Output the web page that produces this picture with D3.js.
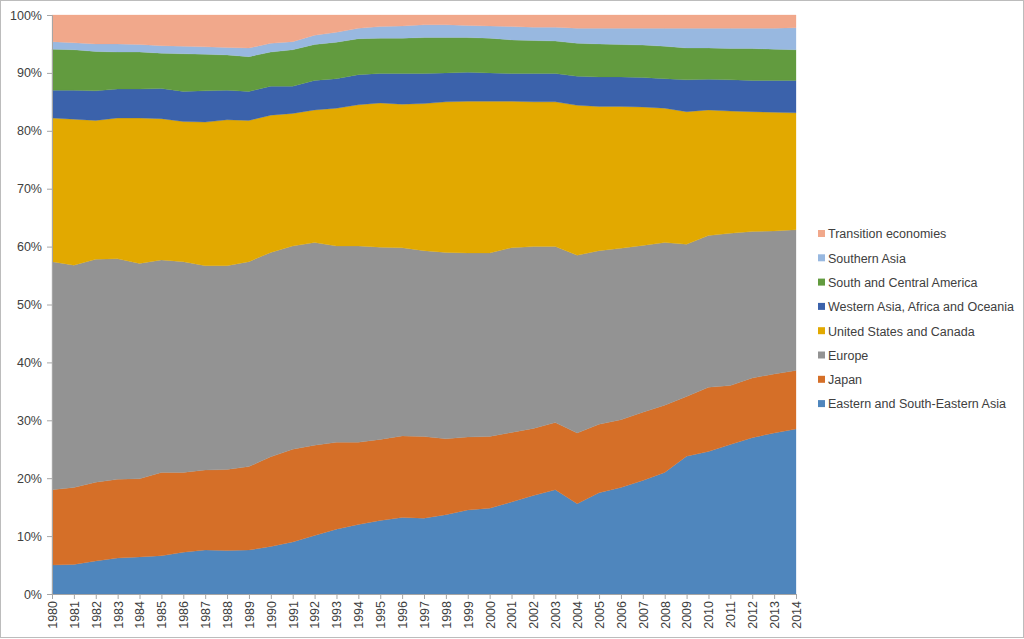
<!DOCTYPE html>
<html><head><meta charset="utf-8">
<script src="https://cdn.jsdelivr.net/npm/d3@7"></script>
<style>
html,body{margin:0;padding:0;background:#fff;}
svg{display:block;font-family:"Liberation Sans","DejaVu Sans",sans-serif;}
</style></head>
<body>
<svg id="chart" width="1024" height="639"></svg>
<script>
const years = [1980,1981,1982,1983,1984,1985,1986,1987,1988,1989,1990,1991,1992,1993,1994,1995,1996,1997,1998,1999,2000,2001,2002,2003,2004,2005,2006,2007,2008,2009,2010,2011,2012,2013,2014];
const easternAsia = [5.0,5.1,5.7,6.2,6.4,6.6,7.2,7.6,7.5,7.6,8.2,9.0,10.1,11.2,12.0,12.7,13.2,13.1,13.7,14.5,14.8,15.9,17.0,18.0,15.6,17.5,18.4,19.6,21.0,23.8,24.6,25.8,27.0,27.8,28.5];
const japan = [13.0,13.3,13.6,13.6,13.5,14.4,13.8,13.8,14.0,14.4,15.5,16.0,15.6,15.0,14.2,14.0,14.1,14.1,13.1,12.6,12.4,12.0,11.6,11.6,12.2,11.8,11.7,11.8,11.6,10.3,11.1,10.2,10.3,10.2,10.1];
const europe = [39.4,38.4,38.5,38.1,37.2,36.7,36.4,35.3,35.2,35.4,35.3,35.1,35.0,33.9,33.9,33.2,32.5,32.1,32.2,31.8,31.7,31.9,31.4,30.4,30.7,30.0,29.6,28.8,28.1,26.3,26.2,26.3,25.3,24.7,24.3];
const usCanada = [24.8,25.2,24.0,24.3,25.1,24.4,24.2,24.8,25.2,24.4,23.7,22.9,22.9,23.8,24.4,24.9,24.8,25.4,26.0,26.2,26.2,25.3,25.0,25.0,25.9,24.9,24.5,23.9,23.2,22.9,21.7,21.1,20.7,20.5,20.2];
const westernAsia = [4.8,5.0,5.1,5.0,5.0,5.2,5.2,5.4,5.1,5.0,5.0,4.7,5.1,5.1,5.2,5.1,5.3,5.2,5.0,5.0,4.9,4.8,4.9,4.9,5.0,5.1,5.1,5.1,5.1,5.5,5.3,5.4,5.4,5.5,5.6];
const southCentralAmerica = [7.1,7.0,6.8,6.4,6.4,6.1,6.5,6.3,6.1,6.0,5.9,6.3,6.2,6.3,6.2,6.1,6.1,6.2,6.1,6.0,6.0,5.8,5.7,5.6,5.7,5.7,5.6,5.6,5.6,5.5,5.4,5.4,5.5,5.4,5.3];
const southernAsia = [1.3,1.2,1.3,1.4,1.3,1.3,1.3,1.3,1.3,1.5,1.5,1.4,1.6,1.7,1.8,2.0,2.1,2.2,2.2,2.1,2.1,2.3,2.3,2.4,2.6,2.7,2.8,2.9,3.1,3.4,3.4,3.5,3.5,3.6,3.8];
const transition = [4.6,4.8,5.0,5.0,5.1,5.3,5.4,5.5,5.6,5.7,4.9,4.6,3.5,3.0,2.3,2.0,1.9,1.7,1.7,1.8,1.9,2.0,2.1,2.1,2.3,2.3,2.3,2.3,2.3,2.3,2.3,2.3,2.3,2.3,2.2];

const seriesNames = ["Eastern and South-Eastern Asia","Japan","Europe","United States and Canada","Western Asia, Africa and Oceania","South and Central America","Southern Asia","Transition economies"];
const seriesValues = [easternAsia,japan,europe,usCanada,westernAsia,southCentralAmerica,southernAsia,transition];
const colors = ["#4f86bd","#d56f28","#939393","#e2a900","#3b62ab","#629b3f","#98b8e0","#f1a88b"];
const yTicks = [0,0.1,0.2,0.3,0.4,0.5,0.6,0.7,0.8,0.9,1.0];

const rows = years.map((y,i)=>{const r={year:y}; seriesNames.forEach((n,k)=>r[n]=seriesValues[k][i]); return r;});

const svg = d3.select("#chart");
svg.append("rect").attr("x",0.5).attr("y",0.5).attr("width",1023).attr("height",637)
  .attr("fill","#fff").attr("stroke","#bcbcbc");

const L=52,R=796,T=15,B=594;
const x = d3.scaleLinear().domain([years[0],years[years.length-1]]).range([L,R]);
const y = d3.scaleLinear().domain([0,1]).range([B,T]);

const stack = d3.stack().keys(seriesNames).offset(d3.stackOffsetExpand);
const stacked = stack(rows);
const area = d3.area().x(d=>x(d.data.year)).y0(d=>y(d[0])).y1(d=>y(d[1]));

svg.append("g").selectAll("path").data(stacked).join("path")
  .attr("d",area).attr("fill",(d,i)=>colors[i]).attr("stroke",(d,i)=>colors[i]).attr("stroke-width",0.3);

// Y axis
const yAxis = d3.axisLeft(y).tickValues(yTicks).tickFormat(d3.format(".0%")).tickSize(5).tickPadding(5);
const gy = svg.append("g").attr("transform",`translate(${L},0)`).call(yAxis);
gy.select(".domain").attr("stroke","#a6a6a6");
gy.selectAll(".tick line").attr("stroke","#a6a6a6");
gy.selectAll("text").attr("fill","#404040").style("font-size","12.5px");

// X axis
const xAxis = d3.axisBottom(x).tickValues(years).tickFormat(d3.format("d")).tickSize(5).tickPadding(4);
const gx = svg.append("g").attr("transform",`translate(0,${B})`).call(xAxis);
gx.select(".domain").attr("stroke","#a6a6a6");
gx.selectAll(".tick line").attr("stroke","#a6a6a6");
gx.selectAll("text").attr("fill","#404040").style("font-size","12.5px")
  .attr("transform","rotate(-90)").attr("text-anchor","end").attr("dy","0.35em").attr("x",-7).attr("y",0);

// Legend
const legendOrder = seriesNames.map((n,i)=>i).reverse();
const lg = svg.append("g");
legendOrder.forEach((k,j)=>{
  const yy = 234 + j*24.3;
  lg.append("rect").attr("x",818).attr("y",yy-4).attr("width",7).attr("height",7).attr("fill",colors[k]);
  lg.append("text").attr("x",828).attr("y",yy).attr("dy","0.35em").attr("fill","#404040")
    .style("font-size","12.5px").text(seriesNames[k]);
});
</script>
</body></html>
